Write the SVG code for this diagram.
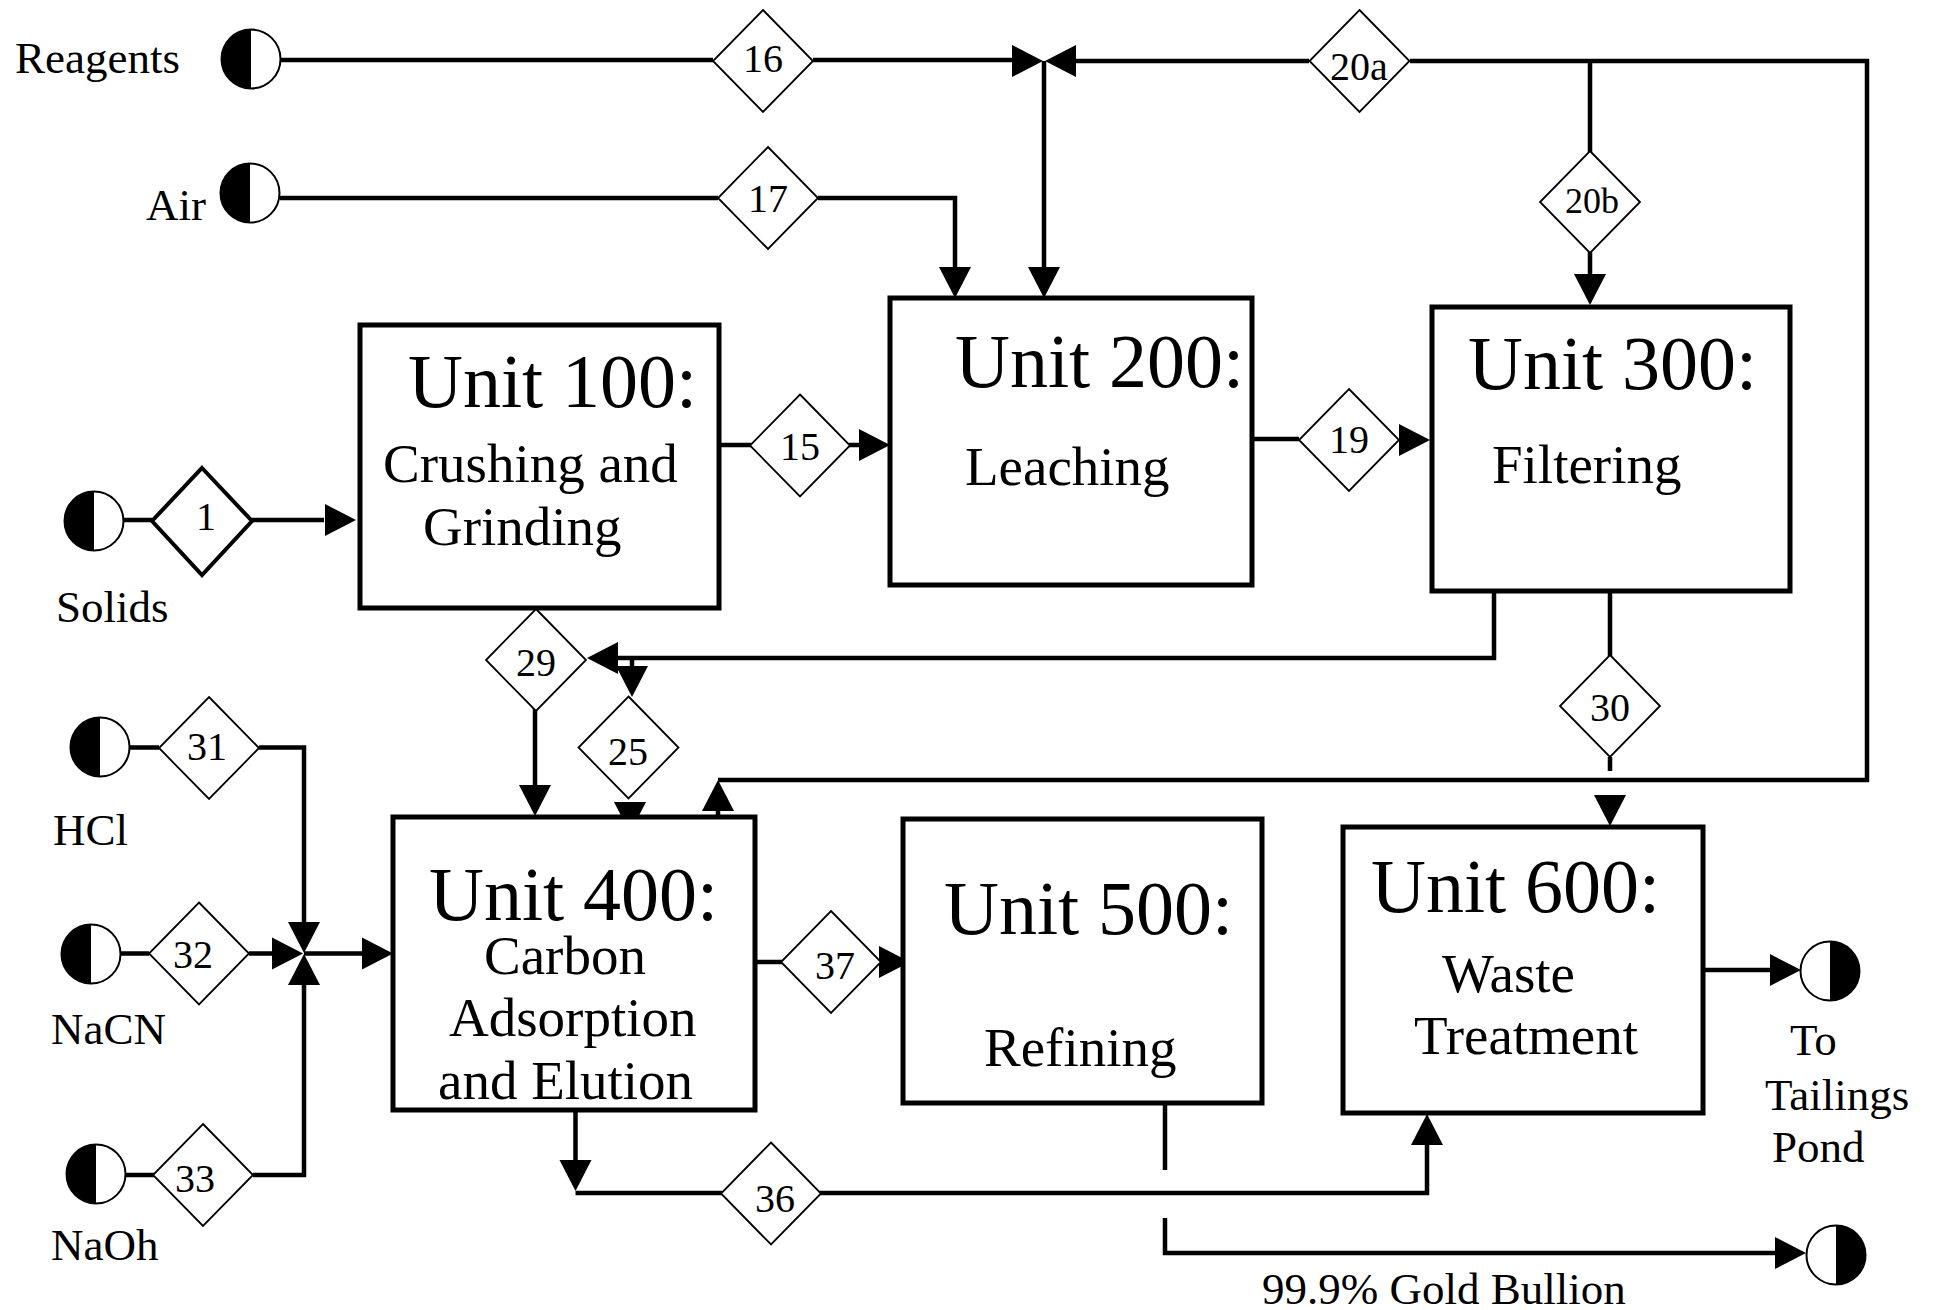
<svg xmlns="http://www.w3.org/2000/svg" xmlns:xlink="http://www.w3.org/1999/xlink" width="1933" height="1310" viewBox="0 0 1933 1310">
  <style>
    .box { fill: #fff; stroke: #000; stroke-width: 5; }
    .ln { fill: none; stroke: #000; stroke-width: 4.5; stroke-linejoin: miter; }
    .t { font-family: "Liberation Serif", "Times New Roman", serif; fill: #000; }
    .unit { font-size: 76px; }
    .sub { font-size: 55px; }
    .lbl { font-size: 45px; }
    .num { font-size: 40px; text-anchor: middle; }
  </style>
  <defs>
    <!-- arrowhead pointing right, tip at origin -->
    <path id="ah" d="M0,0 L-31,-16 L-31,16 Z" fill="#000"/>
    <!-- stream number diamond -->
    <polygon id="dia" points="0,-51 50,0 0,51 -50,0" fill="#fff" stroke="#000" stroke-width="1.8"/>
    <!-- feed terminal, left half filled -->
    <g id="srcL">
      <circle r="29.5" fill="#fff" stroke="#000" stroke-width="2"/>
      <path d="M0,-29.5 A29.5,29.5 0 0 0 0,29.5 Z" fill="#000"/>
    </g>
    <!-- product terminal, right half filled -->
    <g id="srcR">
      <circle r="29.5" fill="#fff" stroke="#000" stroke-width="2"/>
      <path d="M0,-29.5 A29.5,29.5 0 0 1 0,29.5 Z" fill="#000"/>
    </g>
  </defs>

  <rect width="1933" height="1310" fill="#fff"/>

  <!-- connectors -->
  <g id="connectors">
    <!-- reagents / 20a into leaching -->
    <path class="ln" d="M281,60 H713 M813,60 H1014"/>
    <path class="ln" d="M1309,61 H1074"/>
    <path class="ln" d="M1044,61 V270"/>
    <use href="#ah" transform="translate(1043,61)"/>
    <use href="#ah" transform="translate(1045,61) rotate(180)"/>
    <use href="#ah" transform="translate(1044,298) rotate(90)"/>
    <!-- air -->
    <path class="ln" d="M280,198 H718 M818,198 H955 V270"/>
    <use href="#ah" transform="translate(955,298) rotate(90)"/>
    <!-- 20a loop to unit 400 -->
    <path class="ln" d="M1410,61 H1867 V780 H718"/>
    <path class="ln" d="M718,810 V817"/>
    <use href="#ah" transform="translate(718,780) rotate(-90)"/>
    <!-- 20b -->
    <path class="ln" d="M1590,61 V152 M1590,252 V277"/>
    <use href="#ah" transform="translate(1590,305) rotate(90)"/>
    <!-- solids -->
    <path class="ln" d="M124,520 H152 M252,520 H324"/>
    <use href="#ah" transform="translate(356,520)"/>
    <!-- 15 -->
    <path class="ln" d="M712,445 H751 M849,445 H862"/>
    <use href="#ah" transform="translate(890,445)"/>
    <!-- 19 -->
    <path class="ln" d="M1252,439 H1299"/>
    <use href="#ah" transform="translate(1430,440)"/>
    <!-- filtering recycle to 29 / 25 -->
    <path class="ln" d="M1494,591 V658 H614"/>
    <use href="#ah" transform="translate(587,658) rotate(180)"/>
    <path class="ln" d="M632,658 V669"/>
    <use href="#ah" transform="translate(632,697) rotate(90)"/>
    <!-- 29 down -->
    <path class="ln" d="M535,708 V790"/>
    <use href="#ah" transform="translate(535,816) rotate(90)"/>
    <!-- 25 down -->
    <use href="#ah" transform="translate(630,833) rotate(90)"/>
    <!-- 30 -->
    <path class="ln" d="M1610,591 V656 M1610,757 V771"/>
    <use href="#ah" transform="translate(1610,826) rotate(90)"/>
    <!-- HCl / NaCN / NaOH into unit 400 -->
    <path class="ln" d="M130,747.5 H159 M259,747.5 H304 V925"/>
    <use href="#ah" transform="translate(304,953) rotate(90)"/>
    <path class="ln" d="M121,953.5 H149 M249,953.5 H274"/>
    <use href="#ah" transform="translate(303,953.5)"/>
    <path class="ln" d="M126,1175 H154 M253,1175 H304 V982"/>
    <use href="#ah" transform="translate(304,954) rotate(-90)"/>
    <path class="ln" d="M304,953.5 H366"/>
    <use href="#ah" transform="translate(393,953.5)"/>
    <!-- 37 -->
    <path class="ln" d="M755,962 H782"/>
    <use href="#ah" transform="translate(910,962)"/>
    <!-- 36 -->
    <path class="ln" d="M575.5,1110 V1165"/>
    <use href="#ah" transform="translate(575.5,1191) rotate(90)"/>
    <path class="ln" d="M575.5,1193 H722 M820,1193 H1427 V1142"/>
    <use href="#ah" transform="translate(1427,1114) rotate(-90)"/>
    <!-- refining product -->
    <path class="ln" d="M1165,1103 V1170 M1165,1218 V1253 H1776"/>
    <use href="#ah" transform="translate(1806,1253)"/>
    <!-- waste to tailings -->
    <path class="ln" d="M1703,970 H1772"/>
    <use href="#ah" transform="translate(1801,970)"/>
  </g>

  <!-- process units -->
  <g id="unit100">
    <rect class="box" x="360" y="325" width="359" height="283"/>
    <text class="t unit" x="408" y="407">Unit 100:</text>
    <text class="t sub" x="383" y="482">Crushing and</text>
    <text class="t sub" x="423" y="545">Grinding</text>
  </g>
  <g id="unit200">
    <rect class="box" x="890" y="298" width="362" height="287"/>
    <text class="t unit" x="955" y="387">Unit 200:</text>
    <text class="t sub" x="965" y="485">Leaching</text>
  </g>
  <g id="unit300">
    <rect class="box" x="1432" y="307" width="358" height="284"/>
    <text class="t unit" x="1468" y="389">Unit 300:</text>
    <text class="t sub" x="1492" y="483">Filtering</text>
  </g>
  <g id="unit400">
    <rect class="box" x="393" y="817" width="362" height="293"/>
    <text class="t unit" x="429" y="920">Unit 400:</text>
    <text class="t sub" x="484" y="974">Carbon</text>
    <text class="t sub" x="449" y="1036">Adsorption</text>
    <text class="t sub" x="438" y="1099">and Elution</text>
  </g>
  <g id="unit500">
    <rect class="box" x="903" y="819" width="359" height="284"/>
    <text class="t unit" x="944" y="934">Unit 500:</text>
    <text class="t sub" x="984" y="1066">Refining</text>
  </g>
  <g id="unit600">
    <rect class="box" x="1343" y="827" width="360" height="286"/>
    <text class="t unit" x="1371" y="912">Unit 600:</text>
    <text class="t sub" x="1442" y="992">Waste</text>
    <text class="t sub" x="1414" y="1054">Treatment</text>
  </g>

  <!-- feeds and products -->
  <g id="reagents">
    <use href="#srcL" transform="translate(251,59)"/>
    <text class="t lbl" x="15" y="73">Reagents</text>
  </g>
  <g id="air">
    <use href="#srcL" transform="translate(250,193)"/>
    <text class="t lbl" x="146" y="220">Air</text>
  </g>
  <g id="solids">
    <use href="#srcL" transform="translate(94,521)"/>
    <text class="t lbl" x="56" y="622">Solids</text>
  </g>
  <g id="hcl">
    <use href="#srcL" transform="translate(100,747)"/>
    <text class="t lbl" x="53" y="845">HCl</text>
  </g>
  <g id="nacn">
    <use href="#srcL" transform="translate(91,954)"/>
    <text class="t lbl" x="51" y="1044">NaCN</text>
  </g>
  <g id="naoh">
    <use href="#srcL" transform="translate(96,1174)"/>
    <text class="t lbl" x="51" y="1260">NaOh</text>
  </g>
  <g id="tailings">
    <use href="#srcR" transform="translate(1830,971)"/>
    <text class="t lbl" x="1790" y="1055">To</text>
    <text class="t lbl" x="1765" y="1110">Tailings</text>
    <text class="t lbl" x="1772" y="1162">Pond</text>
  </g>
  <g id="bullion">
    <use href="#srcR" transform="translate(1836,1255)"/>
    <text class="t lbl" x="1262" y="1304">99.9% Gold Bullion</text>
  </g>

  <!-- stream numbers -->
  <g id="s1">
    <polygon points="202,468 252,521 202,575 152,521" fill="#fff" stroke="#000" stroke-width="4"/>
    <text class="t num" x="206" y="530">1</text>
  </g>
  <g id="s16"><use href="#dia" transform="translate(763,61)"/><text class="t num" x="763" y="72">16</text></g>
  <g id="s17"><use href="#dia" transform="translate(768,198)"/><text class="t num" x="768" y="212">17</text></g>
  <g id="s20a"><use href="#dia" transform="translate(1359.5,61)"/><text class="t num" x="1359" y="80">20a</text></g>
  <g id="s20b"><use href="#dia" transform="translate(1590,202)"/><text class="t num" x="1592" y="213" style="font-size:36px">20b</text></g>
  <g id="s15"><use href="#dia" transform="translate(800,445.5)"/><text class="t num" x="800" y="460">15</text></g>
  <g id="s19"><use href="#dia" transform="translate(1349,440)"/><text class="t num" x="1349" y="453">19</text></g>
  <g id="s29"><use href="#dia" transform="translate(536,660)"/><text class="t num" x="536" y="676">29</text></g>
  <g id="s25"><use href="#dia" transform="translate(628.5,747.5)"/><text class="t num" x="628" y="765">25</text></g>
  <g id="s30"><use href="#dia" transform="translate(1610,706)"/><text class="t num" x="1610" y="721">30</text></g>
  <g id="s31"><use href="#dia" transform="translate(209,748)"/><text class="t num" x="207" y="760">31</text></g>
  <g id="s32"><use href="#dia" transform="translate(199,953.5)"/><text class="t num" x="193" y="968">32</text></g>
  <g id="s33"><use href="#dia" transform="translate(203,1175)"/><text class="t num" x="195" y="1192">33</text></g>
  <g id="s36"><use href="#dia" transform="translate(771,1193.5)"/><text class="t num" x="775" y="1212">36</text></g>
  <g id="s37"><use href="#dia" transform="translate(831,962)"/><text class="t num" x="835" y="979">37</text></g>
</svg>
